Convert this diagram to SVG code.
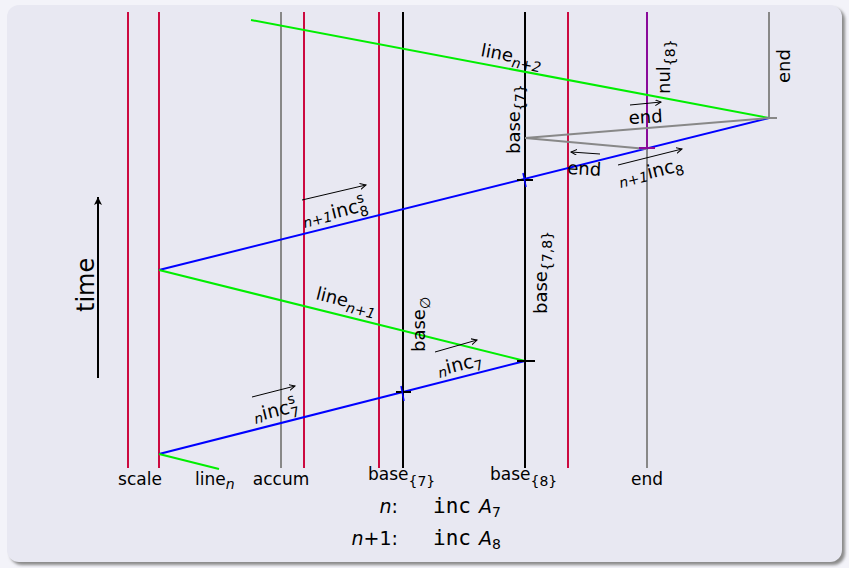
<svg xmlns="http://www.w3.org/2000/svg" width="849" height="568" viewBox="0 0 849 568">
<style>
  text { font-family: "DejaVu Sans", "Liberation Sans", sans-serif; font-size: 17px; fill: #000; }
  .lab { font-size: 18px; }
  .incl { font-size: 19px; }
  .timel { font-size: 24px; }
  .sub { font-size: 14px; }
  .isub { font-size: 14px; font-style: italic; }
  .vl { stroke-width: 2; fill: none; }
  .red { stroke: #cc0a40; }
  .gray { stroke: #888888; }
  .blk { stroke: #000000; }
  .pur { stroke: #8a0a9a; }
  .blue { stroke: #0000ff; stroke-width: 2; fill: none; }
  .green { stroke: #00ee00; stroke-width: 2; fill: none; }
  .tick { stroke-width: 2; fill: none; }
  .varrow { stroke: #000; stroke-width: 1; fill: none; marker-end: url(#vec); }
  .math { font-style: italic; font-size: 19px; }
  .mono { font-family: "DejaVu Sans Mono", "Liberation Mono", monospace; font-size: 21px; }
</style>
<defs>
  <marker id="vec" markerUnits="userSpaceOnUse" markerWidth="8" markerHeight="8" refX="6" refY="3" orient="auto">
    <path d="M0,0 L6,3 L0,6" stroke="#000" stroke-width="1" fill="none"/>
  </marker>
  <marker id="big" markerUnits="userSpaceOnUse" markerWidth="12" markerHeight="12" refX="8" refY="4" orient="auto">
    <path d="M0,0 L8,4 L0,8 L2,4 Z" fill="#000"/>
  </marker>
  <filter id="sh" x="-5%" y="-5%" width="110%" height="110%">
    <feGaussianBlur stdDeviation="1.5"/>
  </filter>
</defs>
<rect x="0" y="0" width="849" height="568" fill="#f3f3f9"/>
<rect x="10" y="8" width="835" height="557" rx="12" fill="#8a8a8a" filter="url(#sh)"/>
<rect x="7" y="5" width="835" height="557" rx="12" fill="#e8e8f2"/>

<g id="lifelines">
  <g id="scale"><line class="vl red" x1="128" y1="12" x2="128" y2="468"/><text x="140" y="485" text-anchor="middle">scale</text></g>
  <g id="line-n-col"><line class="vl red" x1="159" y1="12" x2="159" y2="468"/></g>
  <g id="accum"><line class="vl gray" x1="281" y1="12" x2="281" y2="468"/><text x="281" y="485" text-anchor="middle">accum</text></g>
  <g id="red-304"><line class="vl red" x1="304" y1="12" x2="304" y2="468"/></g>
  <g id="red-379"><line class="vl red" x1="379" y1="12" x2="379" y2="468"/></g>
  <g id="base7"><line class="vl blk" x1="403" y1="12" x2="403" y2="468"/><text x="368" y="480">base<tspan class="sub" dy="6">{7}</tspan></text></g>
  <g id="base8"><line class="vl blk" x1="525" y1="12" x2="525" y2="468"/><text x="490" y="480">base<tspan class="sub" dy="6">{8}</tspan></text></g>
  <g id="red-568"><line class="vl red" x1="568" y1="12" x2="568" y2="468"/></g>
  <g id="end-col"><line class="vl pur" x1="647" y1="12" x2="647" y2="148"/><line class="vl gray" x1="647" y1="148" x2="647" y2="468"/><text x="647" y="485" text-anchor="middle">end</text></g>
  <g id="end-right"><line class="vl gray" x1="769" y1="12" x2="769" y2="118"/><line class="vl gray" x1="766" y1="118" x2="777" y2="118"/></g>
</g>

<g id="connectors">
  <line class="green" x1="251" y1="20" x2="769" y2="118"/>
  <line class="blue" x1="159" y1="270" x2="769" y2="118"/>
  <line class="vl gray" x1="769" y1="118" x2="525" y2="138"/>
  <line class="vl gray" x1="525" y1="138" x2="647" y2="149"/>
  <line class="green" x1="159" y1="270" x2="525" y2="361"/>
  <line class="blue" x1="159" y1="454" x2="525" y2="361"/>
  <line class="green" x1="159" y1="454" x2="219" y2="469"/>
  <line class="tick blk" x1="517" y1="180" x2="533" y2="180"/>
  <line stroke="#0000ff" stroke-width="1.5" x1="523" y1="173" x2="526" y2="187"/>
  <line class="tick blk" x1="517" y1="361" x2="535" y2="361"/>
  <line class="tick blk" x1="396" y1="392" x2="411" y2="392"/>
  <line stroke="#0000ff" stroke-width="1.5" x1="401" y1="386" x2="404" y2="401"/>
  <line class="tick pur" x1="639" y1="148" x2="655" y2="148"/>
  <line class="varrow" x1="630" y1="105" x2="661" y2="102"/>
  <line class="varrow" x1="600" y1="154" x2="571" y2="152"/>
  <line class="varrow" x1="618" y1="165" x2="682" y2="149"/>
  <line class="varrow" x1="302" y1="200" x2="366" y2="185"/>
  <line class="varrow" x1="435" y1="352" x2="477" y2="340"/>
  <line class="varrow" x1="252" y1="397" x2="295" y2="386"/>
  <line stroke="#000" stroke-width="2" x1="98" y1="378" x2="98" y2="197" marker-end="url(#big)"/>
</g>

<g id="labels">
  <text class="lab" transform="translate(480,56) rotate(10.7)">line<tspan class="isub" dy="5">n+2</tspan></text>
  <text class="lab" transform="translate(520,154) rotate(-90)">base<tspan class="sub" dy="5">{7}</tspan></text>
  <text class="lab" transform="translate(670,94) rotate(-90)">nul<tspan class="sub" dy="5">{8}</tspan></text>
  <text class="lab" transform="translate(790,83) rotate(-90)">end</text>
  <text class="lab" transform="translate(629,124) rotate(-3)">end</text>
  <text class="lab" transform="translate(567,174) rotate(3)">end</text>
  <text class="incl" transform="translate(620,186) rotate(-13.8)"><tspan class="isub" dy="2">n+1</tspan><tspan dy="-2">inc</tspan><tspan class="sub" dy="4">8</tspan></text>
  <text class="incl" transform="translate(304,226) rotate(-13.8)"><tspan class="isub" dy="2">n+1</tspan><tspan dy="-2">inc</tspan><tspan class="sub" dy="-9" font-size="11">s</tspan><tspan class="sub" dx="-7" dy="14">8</tspan></text>
  <text class="lab" transform="translate(315,299) rotate(14)">line<tspan class="isub" dy="5">n+1</tspan></text>
  <text class="lab" transform="translate(425,352) rotate(-90)">base<tspan class="sub" dy="5">∅</tspan></text>
  <text class="incl" transform="translate(439,376) rotate(-13.8)"><tspan class="isub" dy="2">n</tspan><tspan dy="-2">inc</tspan><tspan class="sub" dy="4">7</tspan></text>
  <text class="lab" transform="translate(547,314) rotate(-90)">base<tspan class="sub" dy="5">{7,8}</tspan></text>
  <text class="incl" transform="translate(255,422) rotate(-13.8)"><tspan class="isub" dy="2">n</tspan><tspan dy="-2">inc</tspan><tspan class="sub" dy="-9" font-size="11">s</tspan><tspan class="sub" dx="-7" dy="14">7</tspan></text>
  <text class="timel" transform="translate(94,312) rotate(-90)">time</text>
  <text x="195" y="485">line<tspan class="isub" dy="4">n</tspan></text>
</g>

<g id="legend">
  <text x="398" y="513" text-anchor="end"><tspan class="math">n</tspan><tspan font-size="19">:</tspan></text>
  <text x="433" y="513" class="mono">inc</text>
  <text x="479" y="513" class="math">A<tspan font-size="14" font-style="normal" dy="4">7</tspan></text>
  <text x="398" y="545" text-anchor="end"><tspan class="math">n</tspan><tspan font-size="19">+1:</tspan></text>
  <text x="433" y="545" class="mono">inc</text>
  <text x="479" y="545" class="math">A<tspan font-size="14" font-style="normal" dy="4">8</tspan></text>
</g>
</svg>
